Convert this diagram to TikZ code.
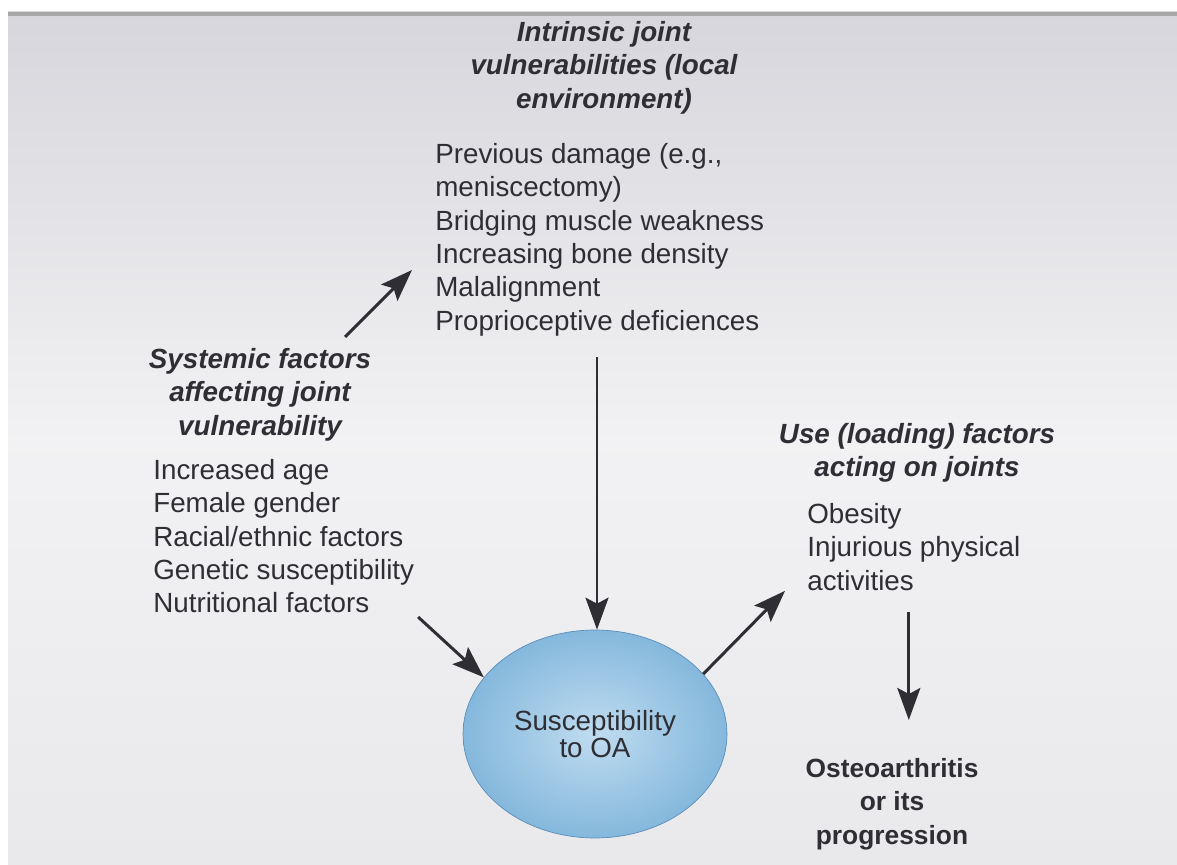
\documentclass[tikz,border=0pt]{standalone}
\usepackage{fontspec}
\setmainfont{Liberation Sans}
\usetikzlibrary{arrows.meta,shapes.geometric}
\definecolor{paper}{RGB}{233,233,236}
\definecolor{papertop}{RGB}{214,214,220}
\definecolor{ink}{RGB}{46,46,52}
\definecolor{oablue}{RGB}{132,184,220}
\definecolor{oalight}{RGB}{192,220,240}
\definecolor{oaedge}{RGB}{92,142,186}

\begin{document}
\begin{tikzpicture}[x=0.02cm, y=-0.02cm,
    heading/.style={font=\fontsize{15.8pt}{19pt}\selectfont\bfseries\itshape, align=center, anchor=north, inner sep=0pt, text=ink},
    items/.style={font=\fontsize{15.8pt}{19pt}\selectfont, align=left, anchor=north west, inner sep=0pt, text=ink},
    outcome/.style={font=\fontsize{15pt}{19pt}\selectfont\bfseries, align=center, anchor=north, inner sep=0pt, text=ink},
    blob/.style={ellipse, draw=oaedge, thin, inner color=oalight, outer color=oablue, minimum width=5.28cm, minimum height=4.16cm, align=center, text=ink, font=\fontsize{15.8pt}{15.5pt}\selectfont},
    arrow/.style={-{Stealth[length=0.64cm, width=0.46cm, inset=0.12cm]}, line width=1.7pt, draw=ink}
]
    \useasboundingbox (0,0) rectangle (1177,865);
    % photographed page
    \shade[top color=papertop, bottom color=paper, middle color=paper!60!white] (8,12) rectangle (1177,865);
    \fill[gray!70] (8,12) rectangle (1177,16);

    % Intrinsic joint vulnerabilities
    \node[heading] (intrh) at (604,21) {Intrinsic joint\\vulnerabilities (local\\environment)};
    \node[items] (intr) at (435,143) {Previous damage (e.g.,\\meniscectomy)\\Bridging muscle weakness\\Increasing bone density\\Malalignment\\Proprioceptive deficiences};

    % Systemic factors
    \node[heading] (sysh) at (260,348) {Systemic factors\\affecting joint\\vulnerability};
    \node[items] (sys) at (153,459) {Increased age\\Female gender\\Racial/ethnic factors\\Genetic susceptibility\\Nutritional factors};

    % Use (loading) factors
    \node[heading] (useh) at (917,423) {Use (loading) factors\\acting on joints};
    \node[items] (use) at (807,503) {Obesity\\Injurious physical\\activities};

    % Susceptibility and outcome
    \node[blob] (oa) at (595,734) {Susceptibility\\to OA};
    \node[outcome] (outc) at (892,758) {Osteoarthritis\\or its\\progression};

    % Arrows
    \coordinate (sysout) at (345,337);
    \coordinate (intrin) at (412,270);
    \draw[arrow] (sysout) -- (intrin);
    \draw[arrow, shorten <=0.42cm] ([xshift=0.04cm]intr.south -| oa.north) -- ([xshift=0.04cm]oa.north);
    \draw[arrow, shorten <=0.1cm] (sys.south east) -- (oa.153);
    \draw[arrow] (oa.29) -- ([xshift=-0.44cm]use.south west);
    \draw[arrow, shorten <=0.42cm, shorten >=0.76cm] ([xshift=-0.1cm]use.south) -- ([xshift=-0.1cm]use.south |- outc.north);
\end{tikzpicture}
\end{document}
